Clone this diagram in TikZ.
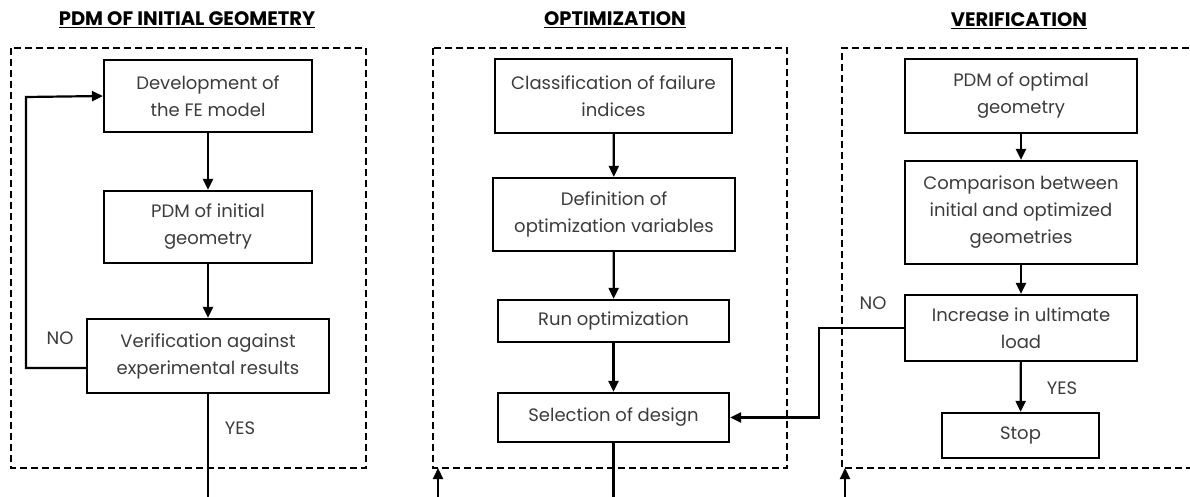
\documentclass[tikz,border=0pt]{standalone}
\usepackage{fontspec}
\setmainfont{Poppins}
\usetikzlibrary{arrows.meta}
\definecolor{txt}{RGB}{60,60,60}
\tikzset{
  x=1pt,y=-1pt,
  box/.style={draw=black,line width=2.2pt,align=center,inner sep=2pt,font=\fontsize{18}{27}\selectfont,text=txt},
  frame/.style={draw=black,line width=2.6pt,dash pattern=on 7pt off 4pt},
  conn/.style={line width=2.2pt,-{Triangle[length=11pt,width=10pt]}},
  plain/.style={line width=2.2pt},
  lbl/.style={font=\fontsize{18}{20}\selectfont,text=txt},
  ttl/.style={font=\bfseries\fontsize{19.5}{22}\selectfont,text=black}
}
\begin{document}
\begin{tikzpicture}
\useasboundingbox[fill=white] (0,0) rectangle (1190,497);
% titles
\node[ttl] (t1) at (187,20) {\underline{PDM OF INITIAL GEOMETRY}};
\node[ttl] (t2) at (615,20) {\underline{OPTIMIZATION}};
\node[ttl] (t3) at (1019,21) {\underline{VERIFICATION}};
% frames
\draw[frame] (11,48) rectangle (366,468);
\draw[frame] (433,48) rectangle (787,468);
\draw[frame] (1200,48) -- (842,48) -- (842,468) -- (1200,468);
% left column
\node[box,minimum width=208pt,minimum height=72pt] (a1) at (208,96) {Development of\\the FE model};
\node[box,minimum width=208pt,minimum height=72pt] (a2) at (208,227) {PDM of initial\\geometry};
\node[box,minimum width=242pt,minimum height=74pt] (a3) at (208,356) {Verification against\\experimental results};
% middle column
\node[box,minimum width=237pt,minimum height=74pt] (b1) at (613.5,96) {Classification of failure\\indices};
\node[box,minimum width=242pt,minimum height=73pt] (b2) at (614,214.5) {Definition of\\optimization variables};
\node[box,minimum width=231pt,minimum height=42pt] (b3) at (613.5,321) {Run optimization};
\node[box,minimum width=231pt,minimum height=49pt] (b4) at (613.5,417.5) {Selection of design};
% right column
\node[box,minimum width=232pt,minimum height=74pt] (c1) at (1021,96) {PDM of optimal\\geometry};
\node[box,minimum width=232pt,minimum height=103pt] (c2) at (1021,212.5) {Comparison between\\initial and optimized\\geometries};
\node[box,minimum width=232pt,minimum height=66pt] (c3) at (1021,328) {Increase in ultimate\\load};
\node[box,minimum width=157pt,minimum height=45pt] (c4) at (1020.5,435.5) {Stop};
% labels
\node[lbl] (no1) at (60,338) {NO};
\node[lbl] (yes1) at (240,428) {YES};
\node[lbl] (no2) at (873,303) {NO};
\node[lbl] (yes2) at (1062,388) {YES};
% bottom free ends
\coordinate (e1) at (208,497);
\coordinate (e2) at (438,497);
\coordinate (e2t) at (438,468);
\coordinate (e3) at (613.5,497);
\coordinate (e4) at (845,497);
\coordinate (e4t) at (845,468);
% connectors
\draw[conn] (a1) -- (a2);
\draw[conn] (a2) -- (a3);
\draw[conn] ([yshift=-12pt]a3.west) -- (26,368) -- (26,97) -- (a1.west);
\draw[plain] (a3) -- (e1);
\draw[conn] (b1) -- (b2);
\draw[conn] (b2) -- (b3);
\draw[conn] (b3) -- (b4);
\draw[plain] (b4) -- (e3);
\draw[conn] (e2) -- (e2t);
\draw[conn] (c1) -- (c2);
\draw[conn] (c2) -- (c3);
\draw[conn] (c3) -- (c4);
\draw[conn] (c3.west) -- (819,328) -- (819,417.5) -- (b4.east);
\draw[conn] (e4) -- (e4t);
\end{tikzpicture}
\end{document}
